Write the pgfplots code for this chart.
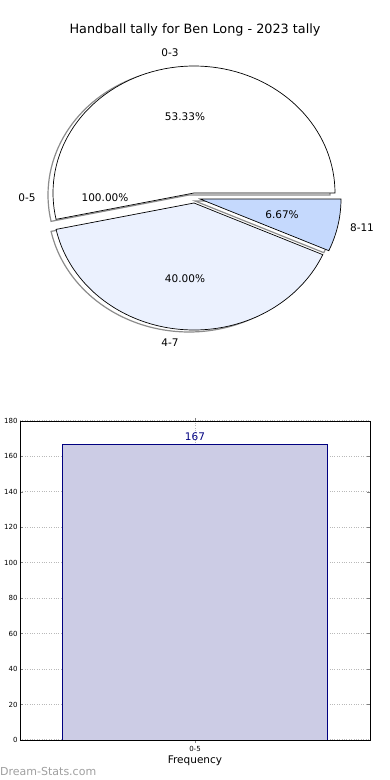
\documentclass[border=0pt]{standalone}
\usepackage{fontspec}
\setmainfont{DejaVu Sans}
\usepackage{pgfplots}
\pgfplotsset{compat=1.18}
\definecolor{sliceA}{RGB}{255,255,255}
\definecolor{sliceB}{RGB}{235,241,254}
\definecolor{sliceC}{RGB}{197,217,253}
\definecolor{barfill}{RGB}{204,204,229}
\definecolor{baredge}{RGB}{0,0,128}
% slice shares (percent)
\def\pA{53.33}
\def\pB{40.00}
\def\pC{6.67}
\begin{document}
\begin{tikzpicture}
\path[use as bounding box] (0pt,0pt) rectangle (390pt,780pt);
% ---------------- pie ----------------
\begin{axis}[at={(0pt,390pt)}, anchor=south west, width=390pt, height=390pt,
  scale only axis, xmin=0, xmax=390, ymin=0, ymax=390, y dir=reverse,
  hide axis, clip=false]
\pgfmathsetmacro\aA{\pA*3.6}
\pgfmathsetmacro\aB{(\pA+\pB)*3.6}
% shadows
\addplot[draw=gray!90, line width=1.2pt, fill=white, domain=0:\aA, samples=80, variable=\t]
  ({189+141*cos(t)},{195-127*sin(t)}) -- (axis cs:189,195) -- cycle;
\addplot[draw=gray!90, line width=1.2pt, fill=white, domain=\aA:\aB, samples=80, variable=\t]
  ({189+141*cos(t)},{205-127*sin(t)}) -- (axis cs:189,205) -- cycle;
\addplot[draw=gray!90, line width=1.2pt, fill=white, domain=\aB:360, samples=30, variable=\t]
  ({195+141*cos(t)},{201-127*sin(t)}) -- (axis cs:195,201) -- cycle;
% slices
\addplot[draw=black, line width=0.7pt, fill=sliceA, domain=0:\aA, samples=80, variable=\t]
  ({194+141*cos(t)},{193-127*sin(t)}) -- (axis cs:194,193) -- cycle;
\addplot[draw=black, line width=0.7pt, fill=sliceB, domain=\aA:\aB, samples=80, variable=\t]
  ({194+141*cos(t)},{203-127*sin(t)}) -- (axis cs:194,203) -- cycle;
\addplot[draw=black, line width=0.7pt, fill=sliceC, domain=\aB:360, samples=30, variable=\t]
  ({200+141*cos(t)},{199-127*sin(t)}) -- (axis cs:200,199) -- cycle;
% texts
\node[font=\fontsize{12.8}{15}\selectfont] at (axis cs:195,30) {Handball tally for Ben Long - 2023 tally};
\node[font=\fontsize{10.5}{12}\selectfont] at (axis cs:170,53) {0-3};
\node[font=\fontsize{10.5}{12}\selectfont] at (axis cs:27,198) {0-5};
\node[font=\fontsize{10.5}{12}\selectfont] at (axis cs:362,228) {8-11};
\node[font=\fontsize{10.5}{12}\selectfont] at (axis cs:170,343) {4-7};
\node[font=\fontsize{10.5}{12}\selectfont] at (axis cs:185,117) {53.33\%};
\node[font=\fontsize{10.5}{12}\selectfont] at (axis cs:105,198) {100.00\%};
\node[font=\fontsize{10.5}{12}\selectfont] at (axis cs:282,215) {6.67\%};
\node[font=\fontsize{10.5}{12}\selectfont] at (axis cs:185,279) {40.00\%};
\end{axis}
% ---------------- bar ----------------
\begin{axis}[at={(20pt,40pt)}, anchor=south west, width=350pt, height=319pt,
  scale only axis, xmin=-0.66, xmax=0.66, ymin=0, ymax=180,
  ytick={0,20,...,180}, xtick={0}, xticklabels={0-5},
  ybar, bar width=1,
  grid=major, major grid style={gray!55, dotted, line width=1pt},
  tick style={gray, line width=0.6pt}, major tick length=3pt,
  axis line style={black, line width=0.8pt},
  tick label style={font=\fontsize{7}{8}\selectfont},
  yticklabel style={xshift=1pt},
  /pgf/number format/assume math mode=true,
  xlabel={Frequency}, xlabel style={font=\fontsize{10.5}{12}\selectfont, yshift=3pt},
  nodes near coords, nodes near coords style={font=\fontsize{10.5}{12}\selectfont, text=baredge}]
\addplot[fill=barfill, draw=baredge, line width=0.8pt] coordinates {(0,167)};
\end{axis}
\node[anchor=west, inner sep=0pt, text=gray!75, font=\fontsize{11}{12}\selectfont] at (0pt,9pt) {Dream-Stats.com};
\end{tikzpicture}
\end{document}
